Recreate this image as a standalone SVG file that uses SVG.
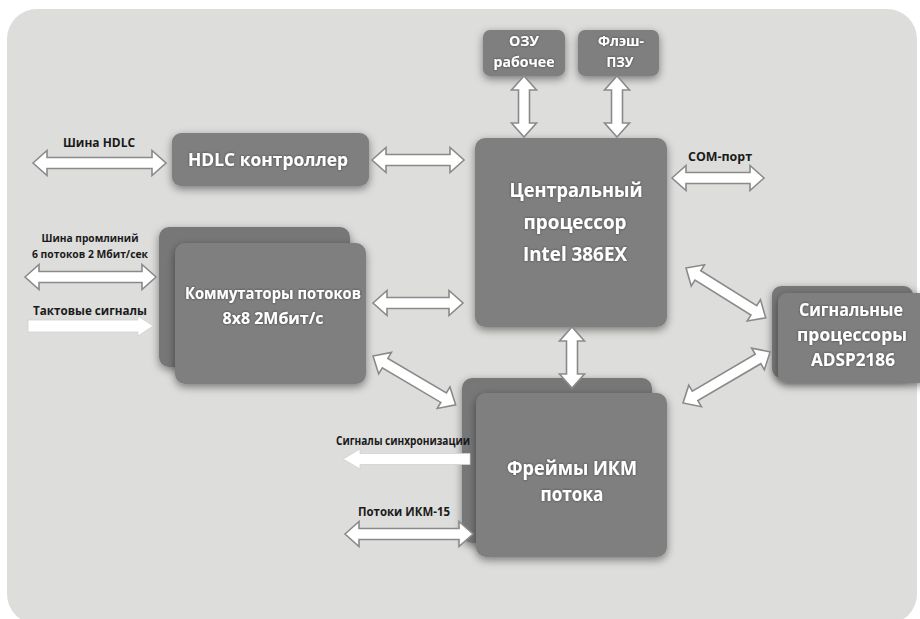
<svg xmlns="http://www.w3.org/2000/svg" width="920" height="619" viewBox="0 0 920 619">
<defs>
<filter id="sh" x="-20%" y="-20%" width="140%" height="150%">
<feDropShadow dx="0" dy="3" stdDeviation="4" flood-color="#000" flood-opacity="0.45"/>
</filter>
<filter id="ts" x="-10%" y="-30%" width="120%" height="160%">
<feDropShadow dx="0" dy="0" stdDeviation="1.2" flood-color="#333" flood-opacity="0.8"/>
</filter>
<style>
.node{fill:#7f7f7f;filter:url(#sh)}
.back{fill:#777777;filter:url(#sh)}
.nt{font-family:"Open Sans","Liberation Sans",sans-serif;font-weight:700;fill:#ffffff;text-anchor:middle;filter:url(#ts)}
.lb{font-family:"Open Sans","Liberation Sans",sans-serif;font-weight:700;fill:#1a1a1a;text-anchor:middle}
.da{fill:#ffffff;stroke:#8a8a8a;stroke-width:1.6;stroke-linejoin:miter}
.sa{fill:#ffffff;stroke:#d0d0d0;stroke-width:0.8}
</style>
</defs>
<rect x="0" y="0" width="920" height="619" fill="#ffffff"/>
<rect x="7" y="9" width="910" height="615" rx="30" fill="#dddddb"/>

<g id="ram">
<rect class="node" x="483" y="30" width="82" height="46" rx="7"/>
<text class="nt" x="524" y="46" font-size="14" textLength="30" lengthAdjust="spacingAndGlyphs">ОЗУ</text>
<text class="nt" x="524" y="67" font-size="14" textLength="61" lengthAdjust="spacingAndGlyphs">рабочее</text>
</g>
<g id="flash">
<rect class="node" x="578" y="30" width="81" height="46" rx="7"/>
<text class="nt" x="621" y="46" font-size="14" textLength="46" lengthAdjust="spacingAndGlyphs">Флэш-</text>
<text class="nt" x="620" y="67" font-size="14" textLength="27" lengthAdjust="spacingAndGlyphs">ПЗУ</text>
</g>
<g id="cpu">
<rect class="node" x="475" y="138" width="192" height="189" rx="10"/>
<text class="nt" x="576" y="197" font-size="20" textLength="133" lengthAdjust="spacingAndGlyphs">Центральный</text>
<text class="nt" x="575" y="229" font-size="20" textLength="103" lengthAdjust="spacingAndGlyphs">процессор</text>
<text class="nt" x="575" y="261" font-size="20" textLength="104" lengthAdjust="spacingAndGlyphs">Intel 386EX</text>
</g>
<g id="hdlc">
<rect class="node" x="172" y="133" width="197" height="53" rx="9"/>
<text class="nt" x="268" y="166" font-size="17" textLength="160" lengthAdjust="spacingAndGlyphs">HDLC контроллер</text>
</g>
<g id="switch">
<rect class="back" x="159" y="227" width="191" height="140" rx="10"/>
<rect class="node" x="175" y="243" width="191" height="141" rx="10"/>
<text class="nt" x="273" y="299" font-size="15.5" textLength="176" lengthAdjust="spacingAndGlyphs">Коммутаторы потоков</text>
<text class="nt" x="273" y="324" font-size="15.5" textLength="101" lengthAdjust="spacingAndGlyphs">8x8 2Мбит/с</text>
</g>
<g id="frames">
<rect class="back" x="462" y="378" width="190" height="165" rx="10"/>
<rect class="node" x="476" y="393" width="191" height="164" rx="10"/>
<text class="nt" x="572" y="475" font-size="20" textLength="130" lengthAdjust="spacingAndGlyphs">Фреймы ИКМ</text>
<text class="nt" x="572" y="501" font-size="20" textLength="63" lengthAdjust="spacingAndGlyphs">потока</text>
</g>
<g id="dsp">
<rect class="back" x="772" y="286" width="141" height="92" rx="9"/>
<rect class="node" x="778" y="293" width="150" height="90" rx="9"/>
<text class="nt" x="851" y="316" font-size="18" textLength="104" lengthAdjust="spacingAndGlyphs">Сигнальные</text>
<text class="nt" x="852" y="341" font-size="18" textLength="110" lengthAdjust="spacingAndGlyphs">процессоры</text>
<text class="nt" x="853" y="366" font-size="18" textLength="84" lengthAdjust="spacingAndGlyphs">ADSP2186</text>
</g>

<g id="connectors">
<path class="da" transform="translate(33,163)" d="M0,0 L14,-12.5 L14,-5.5 L119,-5.5 L119,-12.5 L133,0 L119,12.5 L119,5.5 L14,5.5 L14,12.5 Z"/>
<path class="da" transform="translate(372,160)" d="M0,0 L14,-12.5 L14,-5.5 L78,-5.5 L78,-12.5 L92,0 L78,12.5 L78,5.5 L14,5.5 L14,12.5 Z"/>
<path class="da" transform="translate(25,277)" d="M0,0 L14,-12.5 L14,-5.5 L117,-5.5 L117,-12.5 L131,0 L117,12.5 L117,5.5 L14,5.5 L14,12.5 Z"/>
<path class="sa" transform="translate(28,326)" d="M0,-6 L110,-6 L110,-10 L125,0 L110,10 L110,6 L0,6 Z"/>
<path class="da" transform="translate(373,303)" d="M0,0 L14,-12.5 L14,-5.5 L76,-5.5 L76,-12.5 L90,0 L76,12.5 L76,5.5 L14,5.5 L14,12.5 Z"/>
<path class="da" transform="translate(373,356) rotate(30.56)" d="M0,0 L14,-12.5 L14,-5.5 L82,-5.5 L82,-12.5 L96,0 L82,12.5 L82,5.5 L14,5.5 L14,12.5 Z"/>
<path class="da" transform="translate(686,268) rotate(32)" d="M0,0 L14,-12.5 L14,-5.5 L80,-5.5 L80,-12.5 L94,0 L80,12.5 L80,5.5 L14,5.5 L14,12.5 Z"/>
<path class="da" transform="translate(683,403) rotate(-30.4)" d="M0,0 L14,-12.5 L14,-5.5 L87,-5.5 L87,-12.5 L101,0 L87,12.5 L87,5.5 L14,5.5 L14,12.5 Z"/>
<path class="da" transform="translate(672,178)" d="M0,0 L14,-12.5 L14,-5.5 L78,-5.5 L78,-12.5 L92,0 L78,12.5 L78,5.5 L14,5.5 L14,12.5 Z"/>
<path class="da" transform="translate(524,76) rotate(90)" d="M0,0 L14,-12.5 L14,-5.5 L47,-5.5 L47,-12.5 L61,0 L47,12.5 L47,5.5 L14,5.5 L14,12.5 Z"/>
<path class="da" transform="translate(617,76) rotate(90)" d="M0,0 L14,-12.5 L14,-5.5 L47,-5.5 L47,-12.5 L61,0 L47,12.5 L47,5.5 L14,5.5 L14,12.5 Z"/>
<path class="da" transform="translate(572,327) rotate(90)" d="M0,0 L14,-12.5 L14,-5.5 L47,-5.5 L47,-12.5 L61,0 L47,12.5 L47,5.5 L14,5.5 L14,12.5 Z"/>
<path class="sa" transform="translate(343,459)" d="M0,0 L17,-10 L17,-5.5 L127,-5.5 L127,5.5 L17,5.5 L17,10 Z"/>
<path class="da" transform="translate(345,534)" d="M0,0 L14,-12.5 L14,-5.5 L114,-5.5 L114,-12.5 L128,0 L114,12.5 L114,5.5 L14,5.5 L14,12.5 Z"/>
</g>

<g id="labels">
<text class="lb" x="99" y="147" font-size="12.5" textLength="72" lengthAdjust="spacingAndGlyphs">Шина HDLC</text>
<text class="lb" x="90" y="242" font-size="11" textLength="97" lengthAdjust="spacingAndGlyphs">Шина промлиний</text>
<text class="lb" x="90" y="258" font-size="11" textLength="116" lengthAdjust="spacingAndGlyphs">6 потоков 2 Мбит/сек</text>
<text class="lb" x="90" y="315" font-size="12.5" textLength="114" lengthAdjust="spacingAndGlyphs">Тактовые сигналы</text>
<text class="lb" x="720" y="161" font-size="12.5" textLength="64" lengthAdjust="spacingAndGlyphs">COM-порт</text>
<text class="lb" x="403" y="445" font-size="11.5" textLength="134" lengthAdjust="spacingAndGlyphs">Сигналы синхронизации</text>
<text class="lb" x="404" y="516" font-size="12.5" textLength="92" lengthAdjust="spacingAndGlyphs">Потоки ИКМ-15</text>
</g>
</svg>
